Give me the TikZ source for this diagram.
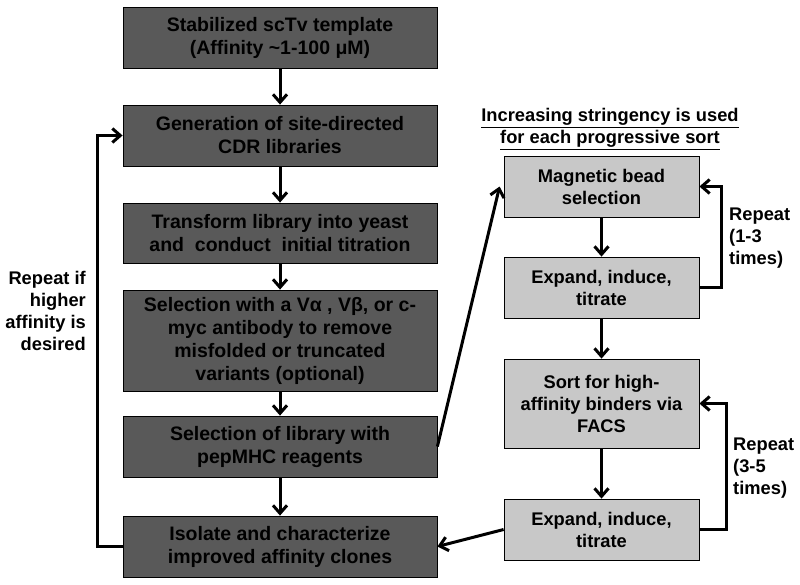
\documentclass[tikz,border=0pt]{standalone}
\usepackage{fontspec}
\setmainfont{Liberation Sans}
\usepackage{tikz}
\usetikzlibrary{arrows.meta}
\definecolor{darkbox}{RGB}{89,89,89}
\definecolor{lightbox}{RGB}{200,200,200}
\tikzset{
  every picture/.style={font={\bfseries\fontsize{19.5}{23}\selectfont},
    >={Straight Barb[length=8pt,width=14pt]}}}

\begin{document}
\begin{tikzpicture}[x=1pt, y=-1pt,
    stage/.style={
      draw=black, fill=darkbox, text=black, line width=0.8pt,
      align=center, inner sep=0pt,
      minimum width=314pt},
    sortstep/.style={
      draw=black, fill=lightbox, text=black, line width=0.8pt,
      align=center, inner sep=0pt,
      font={\bfseries\fontsize{18.3}{22}\selectfont},
      minimum width=195pt},
    flow/.style={->, line width=3pt},
    note/.style={inner sep=0pt, text=black,
      font={\bfseries\fontsize{18.3}{22}\selectfont}}]
  \useasboundingbox (0,0) rectangle (800,584);

  % main pipeline
  \node[stage, minimum height=61pt] (template) at (280, 37.5)
    {Stabilized scTv template\\(Affinity \textasciitilde1-100 μM)};
  \node[stage, minimum height=61pt] (libs) at (280, 135.5)
    {Generation of site-directed\\CDR libraries};
  \node[stage, minimum height=60pt] (yeast) at (280, 233)
    {Transform library into yeast\\and\ \ conduct\ \ initial titration};
  \node[stage, minimum height=101pt] (antibody) at (280, 340.5)
    {Selection with a Vα , Vβ, or c-\\myc antibody to remove\\misfolded or truncated\\variants (optional)};
  \node[stage, minimum height=61pt] (pepmhc) at (280, 446.5)
    {Selection of library with\\pepMHC reagents};
  \node[stage, minimum height=61pt] (clones) at (280, 546.5)
    {Isolate and characterize\\improved affinity clones};

  % sorting rounds
  \node[note, align=center] (title) at (610, 129)
    {\underline{Increasing stringency is used}\\\underline{for each progressive sort}};
  \node[sortstep, minimum height=61pt] (beads) at (601.5, 186.5)
    {Magnetic bead\\selection};
  \node[sortstep, minimum height=61pt] (expandA) at (601.5, 287.5)
    {Expand, induce,\\titrate};
  \node[sortstep, minimum height=89pt] (facs) at (601.5, 403.5)
    {Sort for high-\\affinity binders via\\FACS};
  \node[sortstep, minimum height=61pt] (expandB) at (601.5, 529.5)
    {Expand, induce,\\titrate};

  \node[note, align=right, anchor=east] (againnote) at (86, 311)
    {Repeat if\\higher\\affinity is\\desired};
  \node[note, align=left, anchor=west] (beadnote) at (729, 238)
    {Repeat\\(1-3\\times)};
  \node[note, align=left, anchor=west] (facsnote) at (733, 468)
    {Repeat\\(3-5\\times)};

  \draw[flow] (template) -- (libs);
  \draw[flow] (libs) -- (yeast);
  \draw[flow] (yeast) -- (antibody);
  \draw[flow] (antibody) -- (pepmhc);
  \draw[flow] (pepmhc) -- (clones);
  \draw[flow] (clones.west) -- ++(-25,0) |- (libs.west);

  \draw[flow] (pepmhc.east) -- ([xshift=-4pt]beads.west);
  \draw[flow] (beads) -- (expandA);
  \draw[flow] (expandA) -- (facs);
  \draw[flow] (facs) -- (expandB);
  \draw[flow] (expandA.east) -- ++(22,0) |- (beads.east);
  \draw[flow] (expandB.east) -- ++(27,0) |- (facs.east);
  \draw[flow] (expandB.west) -- (clones.east);
\end{tikzpicture}
\end{document}
